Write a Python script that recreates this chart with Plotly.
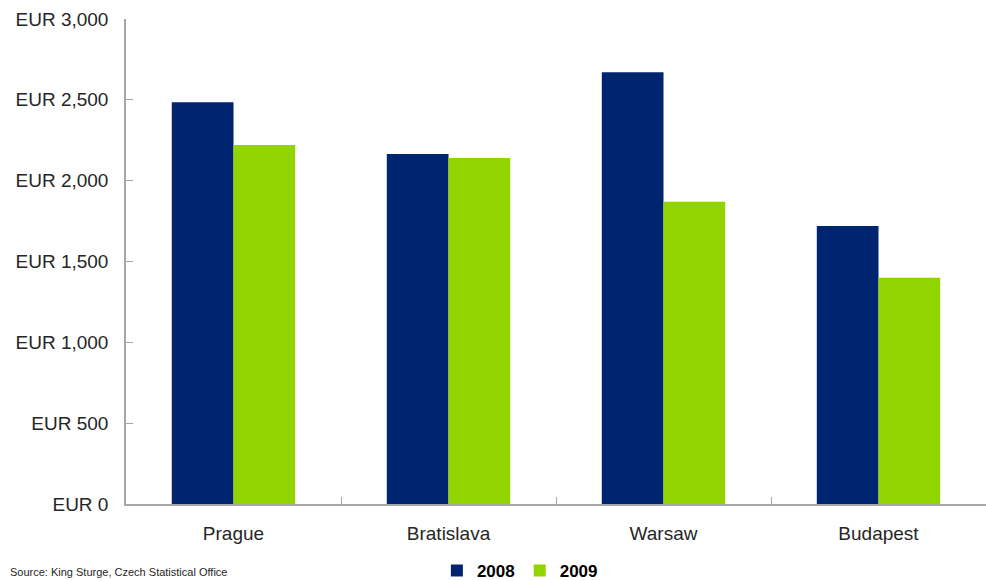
import plotly.graph_objects as go

cities = ["Prague", "Bratislava", "Warsaw", "Budapest"]
values_2008 = [2485, 2165, 2670, 1720]
values_2009 = [2220, 2140, 1870, 1400]
y_ticks = [0, 500, 1000, 1500, 2000, 2500, 3000]
y_tick_labels = ["EUR 0", "EUR 500", "EUR 1,000", "EUR 1,500", "EUR 2,000", "EUR 2,500", "EUR 3,000"]

font_family = "Liberation Sans, Arial, sans-serif"

fig = go.Figure()
fig.add_trace(go.Bar(name="2008", x=cities, y=values_2008, marker=dict(color="#002570", line=dict(width=0))))
fig.add_trace(go.Bar(name="2009", x=cities, y=values_2009, marker=dict(color="#92d400", line=dict(width=0))))

fig.update_layout(
    width=986, height=580,
    margin=dict(l=126, r=0, t=19, b=76, autoexpand=False),
    paper_bgcolor="white", plot_bgcolor="white",
    barmode="group", bargap=0.426, bargroupgap=0,
    font=dict(family=font_family, size=19, color="#262626"),
    showlegend=True,
    legend=dict(orientation="h", x=0.458, xanchor="center", y=-0.138, yanchor="middle",
                font=dict(size=17, color="#000000", family=font_family, weight="bold"),
                itemwidth=30, traceorder="normal", tracegroupgap=0),
    xaxis=dict(showline=True, linecolor="#a6a6a6", linewidth=1.5, ticks="inside", tickson="boundaries",
               ticklen=7, tickcolor="#a6a6a6", ticklabelstandoff=11,
               tickfont=dict(size=19, color="#262626")),
    yaxis=dict(range=[0, 3000], tickvals=y_ticks, ticktext=y_tick_labels, showline=True,
               linecolor="#a6a6a6", linewidth=1.5, ticks="inside", ticklen=7, tickcolor="#a6a6a6",
               showgrid=False, zeroline=False, ticklabelstandoff=12,
               tickfont=dict(size=19, color="#262626")),
)

fig.add_annotation(text="Source: King Sturge, Czech Statistical Office", xref="paper", yref="paper",
                   x=-126/860, y=-68/485, xanchor="left", yanchor="middle", showarrow=False,
                   font=dict(size=11, color="#262626"), xshift=8)

fig.write_html("out.html")
